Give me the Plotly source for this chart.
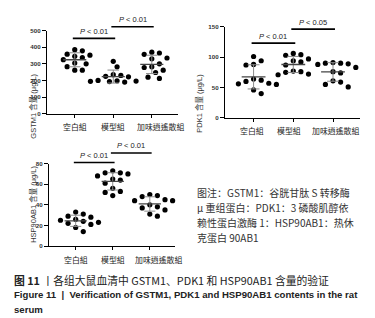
import numpy as np
import plotly.graph_objects as go

# ---------------- data ----------------
groups = ["空白組", "模型組", "加味逍遙散組"]

gstm1_blank = [385, 378, 358, 352, 345, 338, 325, 305, 300, 283, 262, 262]
gstm1_model = [315, 282, 235, 230, 225, 222, 200, 198, 196, 195, 193, 190]
gstm1_treat = [370, 365, 357, 335, 330, 300, 282, 278, 262, 248, 220, 212]

pdk1_blank = [101, 94, 88, 87, 64, 62, 60, 57, 56, 55, 46, 40]
pdk1_model = [106, 104, 103, 97, 94, 92, 87, 77, 76, 75, 72, 71]
pdk1_treat = [91, 90, 90, 89, 88, 83, 76, 74, 61, 59, 55, 51]

hsp_blank = [33, 31, 29, 28, 26, 25, 24, 23, 22, 21, 18, 14]
hsp_model = [73, 71, 71, 70, 68, 65, 64, 61, 56, 53, 52, 49]
hsp_treat = [50, 49, 48, 45, 44, 44, 40, 38, 37, 35, 31, 29]

gstm1_ticks = [0, 100, 200, 300, 400, 500]
pdk1_ticks = [0, 50, 100, 150]
hsp_ticks = [0, 20, 40, 60, 80]

gstm1_p = ["P < 0.01", "P < 0.01"]
pdk1_p = ["P < 0.01", "P < 0.05"]
hsp_p = ["P < 0.01", "P < 0.01"]

# ---------------- layout geometry ----------------
W, H = 375, 318
panels = [
    dict(name="GSTM1", data=[gstm1_blank, gstm1_model, gstm1_treat], ticks=gstm1_ticks,
         ymax=500, xdom=[39 / W, 170 / W], ydom=[1 - 104 / H, 1 - 19 / H],
         title="GSTM1 含量 (μg/L)", title_x=18 / W, ptxt=gstm1_p, pheights=[453, 523],
         lab_shift=[0, 0, 9]),
    dict(name="PDK1", data=[pdk1_blank, pdk1_model, pdk1_treat], ticks=pdk1_ticks,
         ymax=150, xdom=[217 / W, 352 / W], ydom=[1 - 108.3 / H, 1 - 15 / H],
         title="PDK1 含量 (μg/L)", title_x=191 / W, ptxt=pdk1_p, pheights=[123, 146],
         lab_shift=[-2, -4, 2]),
    dict(name="HSP90AB1", data=[hsp_blank, hsp_model, hsp_treat], ticks=hsp_ticks,
         ymax=80, xdom=[41 / W, 167 / W], ydom=[1 - 239.3 / H, 1 - 155 / H],
         title="HSP90AB1 含量 (μg/L)", title_x=18 / W, ptxt=hsp_p, pheights=[81, 90.3],
         lab_shift=[0, 0, 9]),
]
XR = [-0.72, 2.68]


def swarm(vals, px_y, px_x, d=6.6, step=3.8):
    vals = np.asarray(vals, float)
    order = np.argsort(-vals, kind="stable")
    placed = []
    xs = np.zeros(len(vals))
    ks = [0]
    for k in range(1, 12):
        ks += [k, -k]
    for i in order:
        y = vals[i] * px_y
        for k in ks:
            x = k * step
            if all((x - a) ** 2 + (y - b) ** 2 >= d * d for a, b in placed):
                break
        placed.append((x, y))
        xs[i] = x / px_x
    return xs


fig = go.Figure()
shapes = []
annotations = []
axis_font = dict(family="Liberation Sans", size=6.2, color="#333333")
cjk = "Noto Sans CJK TC"

for pi, p in enumerate(panels):
    suf = "" if pi == 0 else str(pi + 1)
    xa, ya = "x" + suf, "y" + suf
    px_y = (p["ydom"][1] - p["ydom"][0]) * H / p["ymax"]
    px_x = (p["xdom"][1] - p["xdom"][0]) * W / (XR[1] - XR[0])
    for gi, vals in enumerate(p["data"]):
        off = swarm(vals, px_y, px_x)
        fig.add_trace(go.Scatter(
            x=gi + off, y=vals, mode="markers", xaxis=xa, yaxis=ya,
            marker=dict(color="black", size=5.2), showlegend=False, cliponaxis=False))
        m = float(np.mean(vals))
        sd = float(np.std(vals, ddof=1))
        # SD bar
        fig.add_trace(go.Scatter(
            x=[gi, gi, None, gi - 0.15, gi + 0.15, None, gi - 0.15, gi + 0.15],
            y=[m - sd, m + sd, None, m + sd, m + sd, None, m - sd, m - sd],
            mode="lines", xaxis=xa, yaxis=ya, line=dict(color="#8a8a8a", width=1),
            showlegend=False, hoverinfo="skip"))
        # mean line
        fig.add_trace(go.Scatter(
            x=[gi - 0.3, gi + 0.3], y=[m, m], mode="lines", xaxis=xa, yaxis=ya,
            line=dict(color="#444444", width=1.3), showlegend=False, hoverinfo="skip"))
        # category label
        annotations.append(dict(xref=xa, yref=ya + " domain", x=gi, y=0, yshift=-13,
                                xshift=p["lab_shift"][gi], xanchor="center",
                                yanchor="middle", showarrow=False, text=groups[gi],
                                font=dict(family=cjk, size=7.9, color="#222")))
    # significance brackets
    for bi, (txt, hv) in enumerate(zip(p["ptxt"], p["pheights"])):
        x0, x1 = bi - 0.05, bi + 1.05
        yd = hv / p["ymax"]
        shapes.append(dict(type="line", xref=xa, yref=ya + " domain", x0=x0, x1=x1,
                           y0=yd, y1=yd, line=dict(color="black", width=1.6)))
        annotations.append(dict(xref=xa, yref=ya + " domain", x=(x0 + x1) / 2, y=yd,
                                yanchor="bottom", xanchor="center", yshift=0.5,
                                showarrow=False,
                                text="<i>P</i>" + txt[1:],
                                font=dict(family="Liberation Sans", size=7.5, color="#222")))
    # y axis title
    annotations.append(dict(xref="paper", yref="paper", x=p["title_x"],
                            y=(p["ydom"][0] + p["ydom"][1]) / 2, textangle=-90,
                            showarrow=False, text=p["title"],
                            font=dict(family="Liberation Sans, " + cjk, size=7.5, color="#333")))
    fig.layout["xaxis" + suf] = dict(
        domain=p["xdom"], range=XR, anchor=ya, tickmode="array", tickvals=[0, 1, 2],
        showticklabels=False, showline=True, linecolor="black", linewidth=1.3,
        ticks="outside", ticklen=3, tickcolor="black", showgrid=False, zeroline=False)
    fig.layout["yaxis" + suf] = dict(
        domain=p["ydom"], range=[0, p["ymax"]], anchor=xa, tickmode="array",
        tickvals=p["ticks"], ticktext=["<b>%d</b>" % t for t in p["ticks"]],
        showline=True, linecolor="black", linewidth=1.3, ticks="outside",
        ticklen=4, tickcolor="black", showgrid=False, zeroline=False, tickfont=axis_font)

# right-side note
note_lines = [
    "图注：GSTM1：谷胱甘肽 S 转移酶",
    "μ 重组蛋白：PDK1：3 磷酸肌醇依",
    "赖性蛋白激酶 1：HSP90AB1：热休",
    "克蛋白 90AB1",
]
for i, t in enumerate(note_lines):
    annotations.append(dict(xref="paper", yref="paper", x=187 / W, y=1 - (185 + i * 15.3) / H,
                            xanchor="left", yanchor="middle", showarrow=False, text=t,
                            font=dict(family="Noto Sans CJK SC", size=10, color="#333")))

# captions
annotations.append(dict(xref="paper", yref="paper", x=4 / W, y=1 - 274 / H, xanchor="left",
                        yanchor="middle", showarrow=False,
                        text="<b>图 11</b> 丨各组大鼠血清中 GSTM1、PDK1 和 HSP90AB1 含量的验证",
                        font=dict(family="Noto Sans CJK SC", size=10.8, color="#222")))
annotations.append(dict(xref="paper", yref="paper", x=4 / W, y=1 - 289 / H, xanchor="left",
                        yanchor="middle", showarrow=False,
                        text="<b>Figure 11  |  Verification of GSTM1, PDK1 and HSP90AB1 contents in the rat</b>",
                        font=dict(family="Liberation Sans", size=9.6, color="#222")))
annotations.append(dict(xref="paper", yref="paper", x=4 / W, y=1 - 304 / H, xanchor="left",
                        yanchor="middle", showarrow=False, text="<b>serum</b>",
                        font=dict(family="Liberation Sans", size=9.6, color="#222")))

fig.update_layout(width=W, height=H, margin=dict(l=0, r=0, t=0, b=0),
                  paper_bgcolor="white", plot_bgcolor="white",
                  shapes=shapes, annotations=annotations, showlegend=False)
fig.write_html("out.html")
